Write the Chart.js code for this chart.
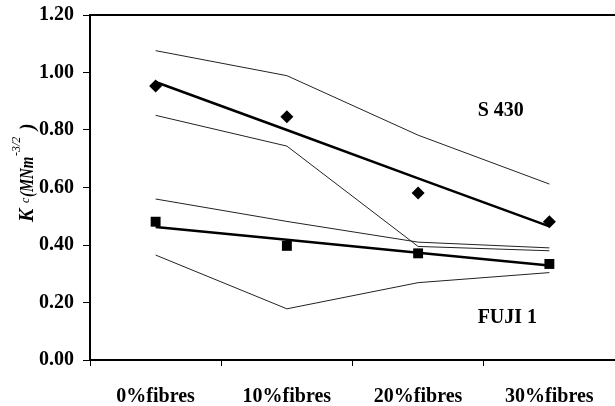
<!DOCTYPE html>
<html>
<head>
<meta charset="utf-8">
<script src="https://cdn.jsdelivr.net/npm/chart.js@4.4.1/dist/chart.umd.min.js"></script>
<style>
  html, body { margin: 0; padding: 0; background: #fff; }
  #wrap { width: 615px; height: 406px; position: relative; }
</style>
</head>
<body>
<div id="wrap"><canvas id="c" width="615" height="406"></canvas></div>
<script>
// ---- data ----
const categories = ["0%fibres", "10%fibres", "20%fibres", "30%fibres"];
const s430Points = [0.953, 0.846, 0.581, 0.481];
const s430Trend  = [0.967, 0.800, 0.632, 0.465];
const s430Upper  = [1.076, 0.989, 0.782, 0.612];
const s430Lower  = [0.851, 0.744, 0.395, 0.380];
const fujiPoints = [0.481, 0.397, 0.371, 0.334];
const fujiTrend  = [0.463, 0.418, 0.373, 0.329];
const fujiUpper  = [0.560, 0.482, 0.410, 0.390];
const fujiLower  = [0.365, 0.178, 0.269, 0.304];
const yTicks = [0, 0.2, 0.4, 0.6, 0.8, 1.0, 1.2];
const seriesLabels = [
  { text: "S 430", x: 2.63, y: 0.866 },
  { text: "FUJI 1", x: 2.68, y: 0.146 }
];

const SERIF = "'Liberation Serif', 'Times New Roman', serif";

function thin(data) {
  return { type: 'line', data, borderColor: '#222', borderWidth: 1, pointRadius: 0, fill: false, tension: 0 };
}
function thick(data) {
  return { type: 'line', data, borderColor: '#000', borderWidth: 2.5, pointRadius: 0, fill: false, tension: 0 };
}
function marks(data, style, r) {
  return { type: 'line', data, showLine: false, pointStyle: style, pointRadius: r, pointHoverRadius: r,
           pointBackgroundColor: '#000', pointBorderColor: '#000', pointBorderWidth: 0 };
}

const decor = {
  id: 'decor',
  afterDraw(chart) {
    const ctx = chart.ctx, a = chart.chartArea;
    const xs = chart.scales.x, ys = chart.scales.y;
    ctx.save();
    // top border
    ctx.strokeStyle = '#000'; ctx.lineWidth = 2;
    ctx.beginPath(); ctx.moveTo(a.left - 1, a.top); ctx.lineTo(a.right + 2, a.top); ctx.stroke();
    // series labels
    ctx.fillStyle = '#000';
    ctx.font = 'bold 20px ' + SERIF;
    ctx.textAlign = 'center'; ctx.textBaseline = 'middle';
    seriesLabels.forEach(l => ctx.fillText(l.text, xs.getPixelForValue(l.x), ys.getPixelForValue(l.y)));
    // y axis title: K_c (MNm^-3/2)
    ctx.translate(33, 222);
    ctx.rotate(-Math.PI / 2);
    ctx.textAlign = 'left'; ctx.textBaseline = 'alphabetic';
    const parts = [
      { t: 'K', f: 'italic bold 20px ' + SERIF, at: 0, dy: 0, sx: 1 },
      { t: 'c', f: 'italic 12px ' + SERIF, at: 19, dy: -4, sx: 1 },
      { t: '(MNm', f: 'italic bold 19px ' + SERIF, at: 25, dy: 0, sx: 0.78 },
      { t: '-3/2', f: 'italic 12px ' + SERIF, at: 66, dy: -13, sx: 1 },
      { t: ')', f: 'italic bold 20px ' + SERIF, at: 92, dy: 1, sx: 1 }
    ];
    parts.forEach(p => {
      ctx.save();
      ctx.font = p.f;
      ctx.translate(p.at, p.dy);
      ctx.scale(p.sx, 1);
      ctx.fillText(p.t, 0, 0);
      ctx.restore();
    });
    ctx.restore();
  }
};

new Chart(document.getElementById('c'), {
  type: 'line',
  data: {
    labels: categories,
    datasets: [
      thin(s430Upper), thin(s430Lower), thin(fujiUpper), thin(fujiLower),
      thick(s430Trend), thick(fujiTrend),
      marks(s430Points, 'rectRot', 6.5),
      marks(fujiPoints, 'rect', 7)
    ]
  },
  options: {
    responsive: false,
    animation: false,
    devicePixelRatio: 1,
    layout: { autoPadding: false, padding: { top: 15, right: 0, left: 0, bottom: 0 } },
    plugins: { legend: { display: false }, tooltip: { enabled: false } },
    scales: {
      x: {
        type: 'category',
        offset: true,
        grid: { offset: true, drawOnChartArea: false, tickLength: 6, lineWidth: 1,
                color: c => (c.index >= categories.length ? 'rgba(0,0,0,0)' : '#000') },
        border: { color: '#000', width: 2 },
        ticks: { color: '#000', font: { family: SERIF, size: 20, weight: 'bold' }, padding: 19, maxRotation: 0 },
        afterFit(s) { s.height = 46; s.paddingLeft = 0; s.paddingRight = 0; }
      },
      y: {
        min: 0, max: 1.2,
        afterBuildTicks(s) { s.ticks = yTicks.map(v => ({ value: v })); },
        grid: { drawOnChartArea: false, tickLength: 7, color: '#000', lineWidth: 1 },
        border: { color: '#000', width: 2 },
        ticks: { color: '#000', font: { family: SERIF, size: 20, weight: 'bold' }, padding: 9,
                 callback: v => v.toFixed(2) },
        afterFit(s) { s.width = 90; s.paddingTop = 0; s.paddingBottom = 0; }
      }
    }
  },
  plugins: [decor]
});
</script>
</body>
</html>
